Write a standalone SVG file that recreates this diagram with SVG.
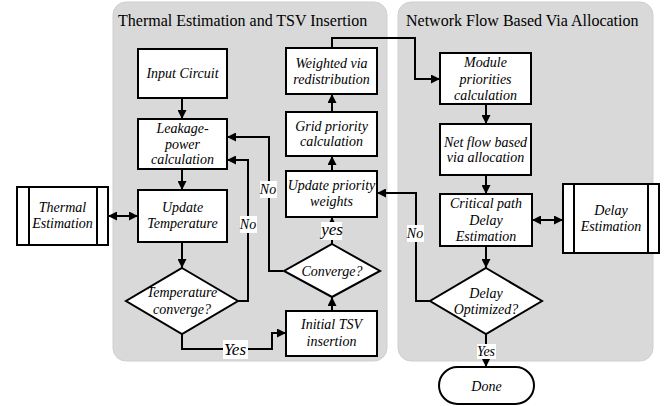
<svg xmlns="http://www.w3.org/2000/svg" width="672" height="406" viewBox="0 0 672 406">
<style>
.panel{fill:#d9d9d9;stroke:#cfcfcf;stroke-width:1}
.box{fill:#fff;stroke:#000;stroke-width:2}
.c{fill:none;stroke:#000;stroke-width:2}
.lbg{fill:#fff}
</style>
<defs>
<marker id="ah" viewBox="0 0 10 10" refX="10" refY="5" markerWidth="9" markerHeight="9" markerUnits="userSpaceOnUse" orient="auto-start-reverse">
<path d="M0,0 L10,5 L0,10 Z" fill="#000"/>
</marker>
</defs>
<rect width="672" height="406" fill="#fff"/>
<g id="panel-thermal">
<rect class="panel" x="113" y="2" width="274" height="359" rx="13"/>
<text x="118" y="26" font-family="Liberation Serif" font-size="16">Thermal Estimation and TSV Insertion</text>
</g>
<g id="panel-network">
<rect class="panel" x="398" y="2" width="255" height="359" rx="13"/>
<text x="406" y="26" font-family="Liberation Serif" font-size="16">Network Flow Based Via Allocation</text>
</g>
<g id="connectors">
<path class="c" d="M182,98 V119" marker-end="url(#ah)"/>
<path class="c" d="M182,169 V190" marker-end="url(#ah)"/>
<path class="c" d="M182,242 V268" marker-end="url(#ah)"/>
<path class="c" d="M108,216 H138" marker-start="url(#ah)" marker-end="url(#ah)"/>
<path class="c" d="M238,301 H248 V160 H227" marker-end="url(#ah)"/>
<path class="c" d="M182,334 V349 H272 V333 H286" marker-end="url(#ah)"/>
<path class="c" d="M332,311 V297" marker-end="url(#ah)"/>
<path class="c" d="M283,271 H269 V137 H227" marker-end="url(#ah)"/>
<path class="c" d="M332,244 V217" marker-end="url(#ah)"/>
<path class="c" d="M332,171 V156" marker-end="url(#ah)"/>
<path class="c" d="M332,112 V94" marker-end="url(#ah)"/>
<path class="c" d="M332,48 V38 H415 V79 H440" marker-end="url(#ah)"/>
<path class="c" d="M486,104 V124" marker-end="url(#ah)"/>
<path class="c" d="M486,175 V194" marker-end="url(#ah)"/>
<path class="c" d="M532,220 H563" marker-start="url(#ah)" marker-end="url(#ah)"/>
<path class="c" d="M486,246 V268" marker-end="url(#ah)"/>
<path class="c" d="M431,301 H416 V193 H377" marker-end="url(#ah)"/>
<path class="c" d="M486,334 V367" marker-end="url(#ah)"/>
<rect class="lbg" x="240" y="216" width="17" height="17"/>
<rect class="lbg" x="260" y="181" width="17" height="17"/>
<rect class="lbg" x="407" y="225" width="17" height="17"/>
<rect class="lbg" x="223" y="340" width="25" height="19"/>
<rect class="lbg" x="321" y="222" width="21" height="18"/>
<rect class="lbg" x="477" y="344" width="19" height="15"/>
<g font-family="Liberation Serif" font-style="italic" font-size="14" text-anchor="middle">
<text x="248" y="229" font-family="Liberation Serif">No</text>
<text x="268" y="194" font-family="Liberation Serif">No</text>
<text x="415" y="238" font-family="Liberation Serif">No</text>
<text x="235" y="355" font-family="Liberation Serif" font-size="17">Yes</text>
<text x="332" y="235" font-family="Liberation Serif" font-size="17">yes</text>
<text x="486" y="356" font-family="Liberation Serif">Yes</text>
</g>
</g>
<g id="input-circuit">
<rect class="box" x="138" y="49" width="89" height="49"/>
<text x="182.5" y="78" font-family="Liberation Serif" font-style="italic" font-size="14" text-anchor="middle">Input Circuit</text>
</g>
<g id="leakage">
<rect class="box" x="138" y="119" width="89" height="50"/>
<text x="182.5" y="133" font-family="Liberation Serif" font-style="italic" font-size="14" text-anchor="middle">Leakage-</text>
<text x="182.5" y="149" font-family="Liberation Serif" font-style="italic" font-size="14" text-anchor="middle">power</text>
<text x="182.5" y="164" font-family="Liberation Serif" font-style="italic" font-size="14" text-anchor="middle">calculation</text>
</g>
<g id="update-temp">
<rect class="box" x="138" y="190" width="89" height="52"/>
<text x="182.5" y="212" font-family="Liberation Serif" font-style="italic" font-size="14" text-anchor="middle">Update</text>
<text x="182.5" y="228" font-family="Liberation Serif" font-style="italic" font-size="14" text-anchor="middle">Temperature</text>
</g>
<g id="thermal-est">
<rect class="box" x="17" y="187" width="91" height="58"/>
<line class="c" x1="29" y1="187" x2="29" y2="245"/>
<line class="c" x1="97" y1="187" x2="97" y2="245"/>
<text x="62.5" y="212" font-family="Liberation Serif" font-style="italic" font-size="14" text-anchor="middle">Thermal</text>
<text x="62.5" y="228" font-family="Liberation Serif" font-style="italic" font-size="14" text-anchor="middle">Estimation</text>
</g>
<g id="temp-converge">
<polygon class="box" points="182,268 238,301 182,334 126,301"/>
<text x="182" y="297" font-family="Liberation Serif" font-style="italic" font-size="14" text-anchor="middle">Temperature</text>
<text x="182" y="314" font-family="Liberation Serif" font-style="italic" font-size="14" text-anchor="middle">converge?</text>
</g>
<g id="initial-tsv">
<rect class="box" x="286" y="311" width="91" height="45"/>
<text x="331.5" y="329" font-family="Liberation Serif" font-style="italic" font-size="14" text-anchor="middle">Initial TSV</text>
<text x="331.5" y="346" font-family="Liberation Serif" font-style="italic" font-size="14" text-anchor="middle">insertion</text>
</g>
<g id="converge">
<polygon class="box" points="332,244 380,271 332,297 284,271"/>
<text x="332" y="276" font-family="Liberation Serif" font-style="italic" font-size="14" text-anchor="middle">Converge?</text>
</g>
<g id="update-priority">
<rect class="box" x="286" y="171" width="91" height="46"/>
<text x="331.5" y="190" font-family="Liberation Serif" font-style="italic" font-size="14" text-anchor="middle">Update priority</text>
<text x="331.5" y="206" font-family="Liberation Serif" font-style="italic" font-size="14" text-anchor="middle">weights</text>
</g>
<g id="grid-priority">
<rect class="box" x="286" y="112" width="91" height="44"/>
<text x="331.5" y="131" font-family="Liberation Serif" font-style="italic" font-size="14" text-anchor="middle">Grid priority</text>
<text x="331.5" y="146" font-family="Liberation Serif" font-style="italic" font-size="14" text-anchor="middle">calculation</text>
</g>
<g id="weighted-via">
<rect class="box" x="286" y="48" width="91" height="46"/>
<text x="331.5" y="68" font-family="Liberation Serif" font-style="italic" font-size="14" text-anchor="middle">Weighted via</text>
<text x="331.5" y="84" font-family="Liberation Serif" font-style="italic" font-size="14" text-anchor="middle">redistribution</text>
</g>
<g id="module-priorities">
<rect class="box" x="440" y="53" width="91" height="51"/>
<text x="485.5" y="67" font-family="Liberation Serif" font-style="italic" font-size="14" text-anchor="middle">Module</text>
<text x="485.5" y="84" font-family="Liberation Serif" font-style="italic" font-size="14" text-anchor="middle">priorities</text>
<text x="485.5" y="100" font-family="Liberation Serif" font-style="italic" font-size="14" text-anchor="middle">calculation</text>
</g>
<g id="net-flow">
<rect class="box" x="440" y="124" width="91" height="51"/>
<text x="485.5" y="147" font-family="Liberation Serif" font-style="italic" font-size="14" text-anchor="middle">Net flow based</text>
<text x="485.5" y="162" font-family="Liberation Serif" font-style="italic" font-size="14" text-anchor="middle">via allocation</text>
</g>
<g id="critical-path">
<rect class="box" x="440" y="194" width="92" height="52"/>
<text x="486" y="208" font-family="Liberation Serif" font-style="italic" font-size="14" text-anchor="middle">Critical path</text>
<text x="486" y="225" font-family="Liberation Serif" font-style="italic" font-size="14" text-anchor="middle">Delay</text>
<text x="486" y="241" font-family="Liberation Serif" font-style="italic" font-size="14" text-anchor="middle">Estimation</text>
</g>
<g id="delay-est">
<rect class="box" x="563" y="184" width="96" height="69"/>
<line class="c" x1="574" y1="184" x2="574" y2="253"/>
<line class="c" x1="648" y1="184" x2="648" y2="253"/>
<text x="611" y="215" font-family="Liberation Serif" font-style="italic" font-size="14" text-anchor="middle">Delay</text>
<text x="611" y="231" font-family="Liberation Serif" font-style="italic" font-size="14" text-anchor="middle">Estimation</text>
</g>
<g id="delay-optimized">
<polygon class="box" points="486,268 542,301 486,334 430,301"/>
<text x="486" y="298" font-family="Liberation Serif" font-style="italic" font-size="14" text-anchor="middle">Delay</text>
<text x="486" y="314" font-family="Liberation Serif" font-style="italic" font-size="14" text-anchor="middle">Optimized?</text>
</g>
<g id="done">
<rect class="box" x="439" y="367" width="95" height="37" rx="18.5"/>
<text x="486.5" y="391" font-family="Liberation Serif" font-style="italic" font-size="14" text-anchor="middle">Done</text>
</g>
</svg>
